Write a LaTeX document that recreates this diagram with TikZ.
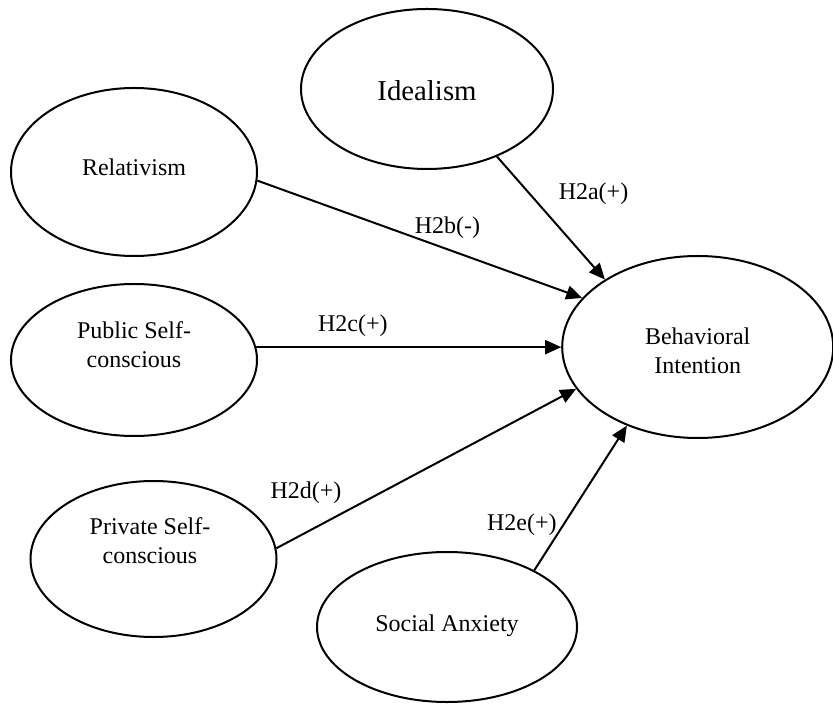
\documentclass[tikz,border=0pt]{standalone}
\usepackage{fontspec}
\setmainfont{Liberation Serif}
\usetikzlibrary{shapes.geometric,arrows.meta}
\begin{document}
\begin{tikzpicture}[x=0.5pt,y=-0.5pt,
  latent/.style={ellipse,draw,line width=1pt,inner sep=0pt},
  txt/.style={align=center,font=\fontsize{12}{14.5}\selectfont,inner sep=0pt},
  hyp/.style={font=\fontsize{12}{14}\selectfont,inner sep=0pt},
  path/.style={line width=1pt,-{Triangle[length=8pt,width=7pt]}}]
\useasboundingbox (0,0) rectangle (833,704);
% ellipses
\node[latent,minimum width=126pt,minimum height=80pt] (ide) at (427,89) {};
\node[latent,minimum width=123pt,minimum height=84pt] (rel) at (134,172) {};
\node[latent,minimum width=123pt,minimum height=76pt] (pub) at (134,360) {};
\node[latent,minimum width=123pt,minimum height=78pt] (pri) at (153.5,559) {};
\node[latent,minimum width=130pt,minimum height=75pt] (soc) at (447,627) {};
\node[latent,minimum width=135.5pt,minimum height=91pt] (bi) at (697.7,347) {};
% texts
\node[txt,font=\fontsize{14.4}{16}\selectfont] (idet) at (427,91) {Idealism};
\node[txt] (relt) at (134,167) {Relativism};
\node[txt] (pubt) at (134,345) {Public Self-\\conscious};
\node[txt] (prit) at (150,541) {Private Self-\\conscious};
\node[txt] (soct) at (447,626) {Social Anxiety};
\node[txt] (bit) at (697.7,351) {Behavioral\\Intention};
% paths
\draw[path] (ide.-44.2) -- (bi.144.4);
\draw[path] (rel.-4.6) -- (bi.157.3);
\draw[path] (pub.6.6) -- (pub.6.6 -| bi.west);
\draw[path] (pri.5.2) -- (bi.-161.1);
\draw[path] (soc.33) -- (bi.-132);
% hypothesis labels
\node[hyp] (h2a) at (593.5,194) {H2a(+)};
\node[hyp] (h2b) at (447.4,228) {H2b(-)};
\node[hyp] (h2c) at (352.8,325.5) {H2c(+)};
\node[hyp] (h2d) at (306,492.6) {H2d(+)};
\node[hyp] (h2e) at (521.8,524.5) {H2e(+)};
\end{tikzpicture}
\end{document}
